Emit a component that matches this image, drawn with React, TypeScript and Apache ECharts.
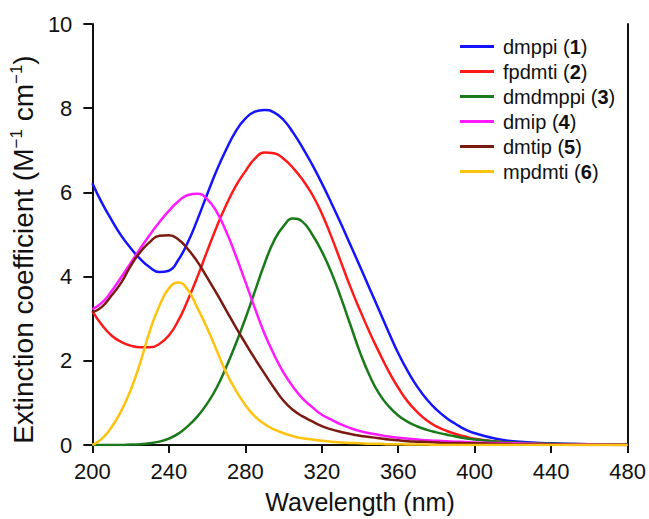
import React, { useEffect, useRef } from "react";
import * as echarts from "echarts";

const wavelengths = [
  200, 205, 210, 215, 220, 225, 230, 235, 240, 245, 250, 255, 260, 265, 270, 275, 280, 285, 290, 295,
  300, 305, 310, 315, 320, 325, 330, 335, 340, 345, 350, 355, 360, 365, 370, 375, 380, 385, 390, 395,
  400, 410, 420, 440, 460, 480,
];

const dmppi = [
  6.22, 5.75, 5.35, 4.98, 4.68, 4.42, 4.22, 4.11, 4.14, 4.4, 4.82, 5.36, 5.95, 6.52, 7.02, 7.45, 7.75, 7.92, 7.96, 7.9,
  7.72, 7.42, 7.06, 6.66, 6.22, 5.75, 5.26, 4.75, 4.24, 3.72, 3.2, 2.68, 2.18, 1.75, 1.38, 1.08, 0.84, 0.65, 0.5, 0.37,
  0.28, 0.16, 0.09, 0.04, 0.02, 0.01,
];
const fpdmti = [
  3.18, 2.85, 2.6, 2.45, 2.36, 2.32, 2.32, 2.4, 2.6, 2.96, 3.45, 4.0, 4.6, 5.18, 5.7, 6.15, 6.5, 6.8, 6.95, 6.93,
  6.8, 6.58, 6.3, 5.95, 5.5, 4.95, 4.35, 3.75, 3.2, 2.68, 2.2, 1.75, 1.36, 1.03, 0.78, 0.58, 0.44, 0.34, 0.26, 0.2,
  0.15, 0.09, 0.05, 0.02, 0.01, 0.0,
];
const dmdmppi = [
  0.0, 0.0, 0.0, 0.0, 0.01, 0.02, 0.04, 0.08, 0.15, 0.27, 0.45, 0.68, 0.98, 1.36, 1.85, 2.4, 3.0, 3.65, 4.3, 4.85,
  5.2, 5.38, 5.3, 5.0, 4.6, 4.1, 3.5, 2.85, 2.2, 1.65, 1.22, 0.92, 0.7, 0.55, 0.44, 0.36, 0.3, 0.25, 0.2, 0.16,
  0.13, 0.09, 0.06, 0.03, 0.02, 0.01,
];
const dmip = [
  3.22, 3.38, 3.65, 3.98, 4.32, 4.66, 4.99, 5.29, 5.56, 5.79, 5.94, 5.97, 5.84, 5.54, 5.07, 4.5, 3.88, 3.25, 2.65, 2.15,
  1.72, 1.38, 1.1, 0.9, 0.72, 0.6, 0.49, 0.4, 0.33, 0.28, 0.24, 0.2, 0.17, 0.15, 0.13, 0.11, 0.1, 0.09, 0.08, 0.07,
  0.06, 0.05, 0.04, 0.02, 0.01, 0.0,
];
const dmtip = [
  3.15, 3.28, 3.55, 3.85, 4.25, 4.58, 4.82, 4.97, 4.98, 4.88, 4.65, 4.35, 3.98, 3.6, 3.2, 2.8, 2.42, 2.05, 1.7, 1.36,
  1.05, 0.83, 0.68, 0.56, 0.45, 0.37, 0.31, 0.26, 0.22, 0.19, 0.16, 0.13, 0.11, 0.09, 0.08, 0.07, 0.06, 0.05, 0.05, 0.04,
  0.04, 0.03, 0.02, 0.01, 0.0, 0.0,
];
const mpdmti = [
  0.0, 0.15, 0.42, 0.8, 1.3, 1.95, 2.7, 3.3, 3.72, 3.86, 3.68, 3.25, 2.78, 2.25, 1.72, 1.3, 0.95, 0.68, 0.5, 0.37,
  0.28, 0.21, 0.16, 0.13, 0.1, 0.08, 0.06, 0.05, 0.04, 0.03, 0.03, 0.02, 0.02, 0.01, 0.01, 0.01, 0.0, 0.0, 0.0, 0.0,
  0.0, 0.0, 0.0, 0.0, 0.0, 0.0,
];

const seriesNames = ["dmppi", "fpdmti", "dmdmppi", "dmip", "dmtip", "mpdmti"];
const seriesNumbers = ["1", "2", "3", "4", "5", "6"];
const seriesValues = [dmppi, fpdmti, dmdmppi, dmip, dmtip, mpdmti];
const seriesColors = ["#1414ff", "#ff1a1a", "#1a7a1a", "#ff1aff", "#7a1a10", "#ffc20e"];

const xTicks = { min: 200, max: 480, interval: 40 };
const yTicks = { min: 0, max: 10, interval: 2 };

const FONT = "'Liberation Sans', Arial, sans-serif";

export default function App() {
  const ref = useRef<HTMLDivElement>(null);
  useEffect(() => {
    document.body.style.margin = "0";
    if (!ref.current) return;
    const chart = echarts.init(ref.current, undefined, { renderer: "svg" });
    const axisLine = { show: true, lineStyle: { color: "#111", width: 2 } };
    const legendLabel = (name: string) => {
      const i = seriesNames.indexOf(name);
      return `${name} ({b|${seriesNumbers[i]}})`;
    };
    chart.setOption({
      animation: false,
      backgroundColor: "#fff",
      textStyle: { fontFamily: FONT },
      grid: { left: 92, right: 18, top: 24, bottom: 70 },
      legend: {
        orient: "vertical",
        left: 455,
        top: 31,
        icon: "rect",
        itemWidth: 34,
        itemHeight: 3,
        itemGap: 4,
        data: seriesNames,
        formatter: legendLabel,
        textStyle: {
          fontFamily: FONT,
          fontSize: 20,
          color: "#111",
          lineHeight: 21,
          padding: [0, 0, 0, 4],
          rich: { b: { fontFamily: FONT, fontSize: 20, fontWeight: "bold", color: "#111" } },
        },
      },
      xAxis: [
        {
          type: "value",
          min: xTicks.min,
          max: xTicks.max,
          interval: xTicks.interval,
          name: "Wavelength (nm)",
          nameLocation: "middle",
          nameGap: 44,
          nameTextStyle: { fontFamily: FONT, fontSize: 25, color: "#111" },
          axisLine: { ...axisLine, onZero: false },
          axisTick: { show: true, inside: false, length: 8, lineStyle: { color: "#111", width: 2 } },
          axisLabel: { fontFamily: FONT, fontSize: 22, color: "#111", margin: 15 },
          splitLine: { show: false },
        },
        {
          type: "value",
          position: "top",
          min: xTicks.min,
          max: xTicks.max,
          axisLine: axisLine,
          axisTick: { show: false },
          axisLabel: { show: false },
          splitLine: { show: false },
        },
      ],
      yAxis: [
        {
          type: "value",
          min: yTicks.min,
          max: yTicks.max,
          interval: yTicks.interval,
          name: "Extinction coefficient (M{sup|−1} cm{sup|−1})",
          nameLocation: "middle",
          nameGap: 51,
          nameTextStyle: {
            fontFamily: FONT,
            fontSize: 28,
            color: "#111",
            padding: [0, 30, 0, 0],
            rich: { sup: { fontFamily: FONT, fontSize: 17, color: "#111", padding: [0, 0, 13, 0] } },
          },
          axisLine: { ...axisLine, onZero: false },
          axisTick: { show: true, inside: false, length: 9, lineStyle: { color: "#111", width: 2 } },
          axisLabel: { fontFamily: FONT, fontSize: 22, color: "#111", margin: 20 },
          splitLine: { show: false },
        },
        {
          type: "value",
          position: "right",
          min: yTicks.min,
          max: yTicks.max,
          axisLine: axisLine,
          axisTick: { show: false },
          axisLabel: { show: false },
          splitLine: { show: false },
        },
      ],
      series: seriesNames.map((name, i) => ({
        name,
        type: "line",
        xAxisIndex: 0,
        yAxisIndex: 0,
        smooth: 0.5,
        showSymbol: false,
        symbol: "none",
        color: seriesColors[i],
        lineStyle: { color: seriesColors[i], width: 2.5 },
        data: wavelengths.map((w, j) => [w, seriesValues[i][j]]),
      })),
    });
    return () => chart.dispose();
  }, []);
  return <div ref={ref} style={{ width: 649, height: 519 }} />;
}
